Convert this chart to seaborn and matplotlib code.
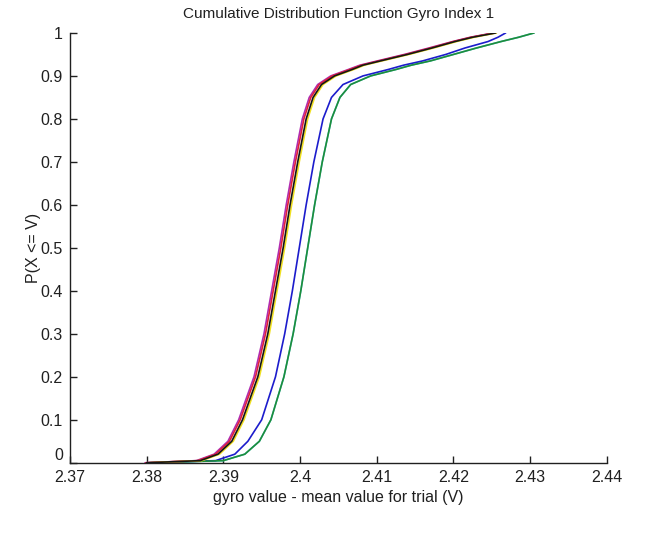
import matplotlib
matplotlib.use("Agg")
import matplotlib.pyplot as plt
import seaborn as sns
import pandas as pd

# ---- data ----
P = [0.0, 0.005, 0.02, 0.05, 0.1, 0.2, 0.3, 0.4, 0.5, 0.6, 0.7, 0.8, 0.85,
     0.88, 0.9, 0.915, 0.925, 0.935, 0.95, 0.965, 0.98, 0.99, 1.0]

x_cyan = [2.3804, 2.3900, 2.3928, 2.3947, 2.3962, 2.3979, 2.3991, 2.4001, 2.4010,
          2.4019, 2.4029, 2.4041, 2.4052, 2.4066, 2.4092, 2.4125, 2.4145, 2.4170,
          2.4200, 2.4230, 2.4262, 2.4285, 2.4305]
x_blue = [2.3800, 2.3890, 2.3915, 2.3932, 2.3950, 2.3968, 2.3980, 2.3990, 2.3999,
          2.4008, 2.4018, 2.4030, 2.4041, 2.4056, 2.4082, 2.4115, 2.4135, 2.4160,
          2.4190, 2.4215, 2.4245, 2.4258, 2.4268]
x_green = [2.3805, 2.3900, 2.3928, 2.3947, 2.3962, 2.3979, 2.3991, 2.4001, 2.4010,
           2.4019, 2.4029, 2.4041, 2.4052, 2.4066, 2.4092, 2.4125, 2.4145, 2.4170,
           2.4200, 2.4230, 2.4262, 2.4285, 2.4305]
x_magenta = [2.3798, 2.3865, 2.3888, 2.3906, 2.3920, 2.3940, 2.3953, 2.3963, 2.3973,
             2.3982, 2.3992, 2.4003, 2.4012, 2.4023, 2.4040, 2.4063, 2.4078, 2.4101,
             2.4136, 2.4168, 2.4199, 2.4222, 2.4252]
x_red = [2.3799, 2.3867, 2.3890, 2.3908, 2.3922, 2.3942, 2.3955, 2.3965, 2.3975,
         2.3984, 2.3994, 2.4005, 2.4014, 2.4025, 2.4042, 2.4065, 2.4080, 2.4103,
         2.4138, 2.4170, 2.4200, 2.4223, 2.4253]
x_yellow = [2.3801, 2.3872, 2.3895, 2.3913, 2.3927, 2.3947, 2.3960, 2.3970, 2.3980,
            2.3989, 2.3999, 2.4010, 2.4019, 2.4030, 2.4047, 2.4070, 2.4084, 2.4107,
            2.4142, 2.4174, 2.4204, 2.4227, 2.4256]
x_black = [2.3800, 2.3870, 2.3893, 2.3911, 2.3925, 2.3945, 2.3958, 2.3968, 2.3978,
           2.3987, 2.3997, 2.4008, 2.4017, 2.4028, 2.4045, 2.4068, 2.4082, 2.4105,
           2.4140, 2.4172, 2.4202, 2.4225, 2.4255]

series_names = ["c", "b", "g", "m", "r", "y", "k"]
series_x = [x_cyan, x_blue, x_green, x_magenta, x_red, x_yellow, x_black]
series_colors = ["#40c8d8", "#1c1ccc", "#1f8c3a", "#b02cb0", "#e0203a", "#f0e020", "#151515"]

xticks = [2.37, 2.38, 2.39, 2.40, 2.41, 2.42, 2.43, 2.44]
xtick_labels = ["2.37", "2.38", "2.39", "2.4", "2.41", "2.42", "2.43", "2.44"]
yticks = [0.0, 0.1, 0.2, 0.3, 0.4, 0.5, 0.6, 0.7, 0.8, 0.9, 1.0]
ytick_labels = ["0", "0.1", "0.2", "0.3", "0.4", "0.5", "0.6", "0.7", "0.8", "0.9", "1"]

rows = []
for name, xs in zip(series_names, series_x):
    for i, (xv, pv) in enumerate(zip(xs, P)):
        rows.append({"series": name, "x": xv, "p": pv, "order": i})
df = pd.DataFrame(rows)

sns.set_theme(style="white")
plt.rcParams["font.family"] = ["Liberation Sans", "DejaVu Sans"]

fig = plt.figure(figsize=(6.59, 5.40), dpi=100)
ax = fig.add_axes([0.106, 0.143, 0.815, 0.796])

for name, col in zip(series_names, series_colors):
    sub = df[df["series"] == name]
    sns.lineplot(data=sub, x="x", y="p", sort=False, estimator=None,
                 color=col, linewidth=1.2, ax=ax)

ax.set_xlim(2.37, 2.44)
ax.set_ylim(0, 1)
ax.set_xticks(xticks)
ax.set_xticklabels(xtick_labels)
ax.set_yticks(yticks)
ax.set_yticklabels(ytick_labels)
ax.tick_params(direction="in", length=5, width=1.0, colors="#202020",
               labelsize=11.5, pad=5, bottom=True, left=True)
ax.get_yticklabels()[0].set_verticalalignment("bottom")
for s in ["top", "right"]:
    ax.spines[s].set_visible(False)
for s in ["left", "bottom"]:
    ax.spines[s].set_color("#202020")
    ax.spines[s].set_linewidth(1.0)

ax.set_xlabel("gyro value - mean value for trial (V)", fontsize=11.5, color="#202020", labelpad=4)
ax.set_ylabel("P(X <= V)", fontsize=11.5, color="#202020", labelpad=0)
ax.set_title("Cumulative Distribution Function Gyro Index 1", fontsize=11, color="#202020", pad=11)

fig.savefig("out.png", dpi=100, facecolor="white")
